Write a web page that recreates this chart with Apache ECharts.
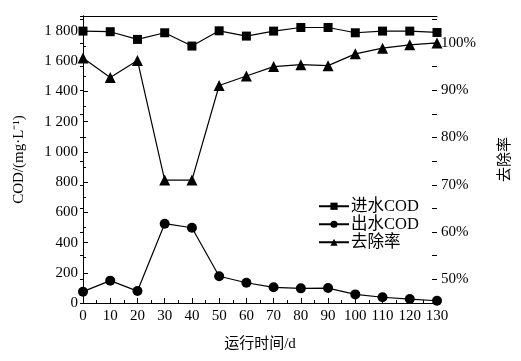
<!DOCTYPE html>
<html><head><meta charset="utf-8">
<script src="https://cdn.jsdelivr.net/npm/echarts@6/dist/echarts.min.js"></script>
<style>html,body{margin:0;padding:0;background:#fff}#c{width:521px;height:361px}</style>
</head><body><div id="c"></div>
<script>
const days = [0,10,20,30,40,50,60,70,80,90,100,110,120,130];
const influentCOD = [1800,1796,1745,1789,1701,1802,1767,1800,1824,1824,1789,1800,1800,1791];
const effluentCOD = [75,148,79,525,498,177,134,104,97,99,57,38,26,15];
const removalRate = [96.8,92.7,96.3,71.0,71.0,91.0,93.0,95.0,95.4,95.2,97.7,98.9,99.6,100.0];
const seriesNames = ['进水COD','出水COD','去除率'];

const FONT = '"Liberation Serif","Noto Sans CJK SC",serif';
const lineStyleAxis = {color:'#000', width:1};
const chart = echarts.init(document.getElementById('c'), null, {renderer:'canvas'});
const pairs = (xs, ys) => xs.map((x,i)=>[x, ys[i]]);
const fmtThousand = v => {
  if (v % 200 !== 0) return '';
  return v >= 1000 ? String(v).replace(/(\d)(\d{3})$/, '$1 $2') : String(v);
};
chart.setOption({
  animation:false,
  backgroundColor:'#fff',
  textStyle:{fontFamily:FONT, color:'#000'},
  grid:{left:83, right:82, top:16, bottom:58, containLabel:false},
  legend:{
    data:seriesNames, orient:'vertical', left:313, top:193, itemGap:1.5,
    itemWidth:30, itemHeight:9,
    textStyle:{fontFamily:FONT, fontSize:16.5, color:'#000', padding:[0,0,0,-3]}
  },
  xAxis:[{
    type:'value', min:0, max:130, interval:10,
    name:'运行时间/d', nameLocation:'middle', nameGap:34,
    nameTextStyle:{fontFamily:FONT, fontSize:15, color:'#000'},
    axisLine:{show:true, lineStyle:lineStyleAxis},
    axisTick:{show:true, inside:true, length:5, lineStyle:lineStyleAxis},
    minorTick:{show:true, splitNumber:2, length:3, lineStyle:lineStyleAxis},
    axisLabel:{fontFamily:FONT, fontSize:15, color:'#000', margin:6},
    splitLine:{show:false}
  },{
    type:'value', position:'top', min:0, max:130,
    axisLine:{show:true, onZero:false, lineStyle:lineStyleAxis},
    axisTick:{show:false}, axisLabel:{show:false}, splitLine:{show:false}
  }],
  yAxis:[{
    type:'value', min:0, max:1900, interval:200,
    name:'COD/(mg·L⁻¹)', nameLocation:'middle', nameGap:56, nameRotate:90,
    nameTextStyle:{fontFamily:FONT, fontSize:15, color:'#000'},
    axisLine:{show:true, lineStyle:lineStyleAxis},
    axisTick:{show:true, inside:true, length:5, lineStyle:lineStyleAxis},
    minorTick:{show:true, splitNumber:2, length:3, lineStyle:lineStyleAxis},
    axisLabel:{fontFamily:FONT, fontSize:15, color:'#000', margin:5, formatter:fmtThousand, showMaxLabel:false},
    splitLine:{show:false}
  },{
    type:'value', position:'right', min:45, max:105.7, interval:5,
    name:'去除率', nameLocation:'middle', nameGap:61, nameRotate:90,
    nameTextStyle:{fontFamily:FONT, fontSize:15, color:'#000'},
    axisLine:{show:true, lineStyle:lineStyleAxis},
    axisTick:{show:true, inside:true, length:3, lineStyle:lineStyleAxis},
    axisLabel:{fontFamily:FONT, fontSize:15, color:'#000', margin:4,
      formatter:v => (Math.round(v) % 10 === 0 && v <= 100) ? Math.round(v) + '%' : ''},
    splitLine:{show:false}
  },{
    type:'value', position:'right', min:45, max:105.7, interval:5,
    axisLine:{show:false},
    axisTick:{show:true, inside:true, length:5, lineStyle:lineStyleAxis,
      interval:(i,v)=> Math.abs(v % 10) < 0.01},
    axisLabel:{show:false}, splitLine:{show:false}
  }],
  series:[{
    name:seriesNames[0], type:'line', xAxisIndex:0, yAxisIndex:0,
    data:pairs(days, influentCOD), symbol:'rect', symbolSize:9,
    itemStyle:{color:'#000'}, lineStyle:{color:'#000', width:1.2}
  },{
    name:seriesNames[1], type:'line', xAxisIndex:0, yAxisIndex:0,
    data:pairs(days, effluentCOD), symbol:'circle', symbolSize:10,
    itemStyle:{color:'#000'}, lineStyle:{color:'#000', width:1.2}
  },{
    name:seriesNames[2], type:'line', xAxisIndex:0, yAxisIndex:1,
    data:pairs(days, removalRate), symbol:'triangle', symbolSize:11,
    itemStyle:{color:'#000'}, lineStyle:{color:'#000', width:1.2}
  }]
});
</script></body></html>
